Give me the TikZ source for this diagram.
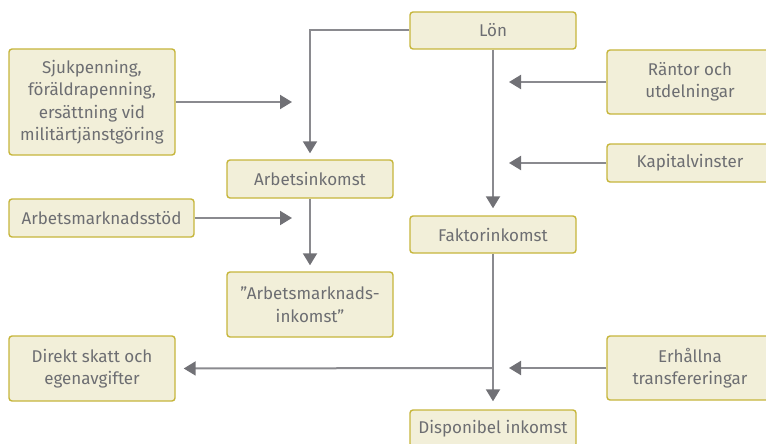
\documentclass[tikz,border=0pt]{standalone}
\usepackage{fontspec}
\setmainfont{Fira Sans}
\usetikzlibrary{arrows.meta}

\definecolor{boxfill}{HTML}{F2EFD9}
\definecolor{boxline}{HTML}{C6B63C}
\definecolor{textgray}{HTML}{6D6E72}
\definecolor{linegray}{HTML}{8A8A8F}
\definecolor{tipgray}{HTML}{717176}

\tikzset{
  incbox/.style={draw=boxline, fill=boxfill, line width=1.4pt, rounded corners=3pt,
    text=textgray, align=center, minimum width=166pt, inner sep=0pt},
  flow/.style={draw=linegray, line width=2pt,
    -{Triangle[length=12pt,width=14pt,color=tipgray]}},
  flowline/.style={draw=linegray, line width=2pt},
}

\begin{document}
\begin{tikzpicture}[x=1pt,y=-1pt]
            \useasboundingbox (0,0) rectangle (766,444);
            \clip (0,0) rectangle (766,444);
            {\fontsize{17}{22.5}\selectfont

            % Boxes in the middle column
            \node (lon) [incbox, minimum height=37pt] at (493,30.5) {Lön};%
            \node (faktor) [incbox, minimum height=37pt] at (493,234.5) {Faktorinkomst};%
            \node (dispon) [incbox, minimum height=37pt] at (493,428.5) {Disponibel inkomst};%

            % Boxes in the second column
            \node (arbinc) [incbox, minimum height=38pt] at (310,179) {Arbetsinkomst};%
            \node (aminc) [incbox, minimum height=65pt] at (310,304.5) {”Arbetsmarknads-\\inkomst”};%

            % Boxes on the left
            \node (sjuk) [incbox, minimum height=106pt] at (92,102) {Sjukpenning,\\föräldrapenning,\\ersättning vid\\militärtjänstgöring};%
            \node (amstod) [incbox, minimum width=185pt, minimum height=38pt] at (101.5,218) {Arbetsmarknadsstöd};%
            \node (direkt) [incbox, minimum height=65pt] at (92,368.5) {Direkt skatt och\\egenavgifter};%

            % Boxes on the right
            \node (rantor) [incbox, minimum height=64pt] at (690,82) {Räntor och\\utdelningar};%
            \node (kapital) [incbox, minimum height=38pt] at (690,163) {Kapitalvinster};%
            \node (erhallna) [incbox, minimum height=64pt] at (690,368) {Erhållna\\transfereringar};%

            % Free ends of the side arrows
            \coordinate (sjukend) at (292,102);%
            \coordinate (amstodend) at (292,218);%
            \coordinate (rantorend) at (509,82);%
            \coordinate (kapitalend) at (509,163);%
            \coordinate (erhallnaend) at (509,368);%
            \coordinate (skattsplit) at (493,368);%

            % Drawing main flow
            \draw [flow, shorten >=6pt] (lon.west) -| (arbinc.north);%
            \draw [flow, shorten >=6pt] (arbinc.south) -- (aminc.north);%
            \draw [flow, shorten >=7pt] (lon.south) -- (faktor.north);%
            \draw [flow, shorten >=8pt] (faktor.south) -- (dispon.north);%

            % Drawing side arrows
            \draw [flow] (sjuk.east) -- (sjukend);%
            \draw [flow] (amstod.east) -- (amstodend);%
            \draw [flow] (rantor.west) -- (rantorend);%
            \draw [flow] (kapital.west) -- (kapitalend);%
            \draw [flow] (erhallna.west) -- (erhallnaend);%
            \draw [flow, shorten >=8pt] (skattsplit) -- (direkt.east);%
            }
        \end{tikzpicture}
\end{document}
